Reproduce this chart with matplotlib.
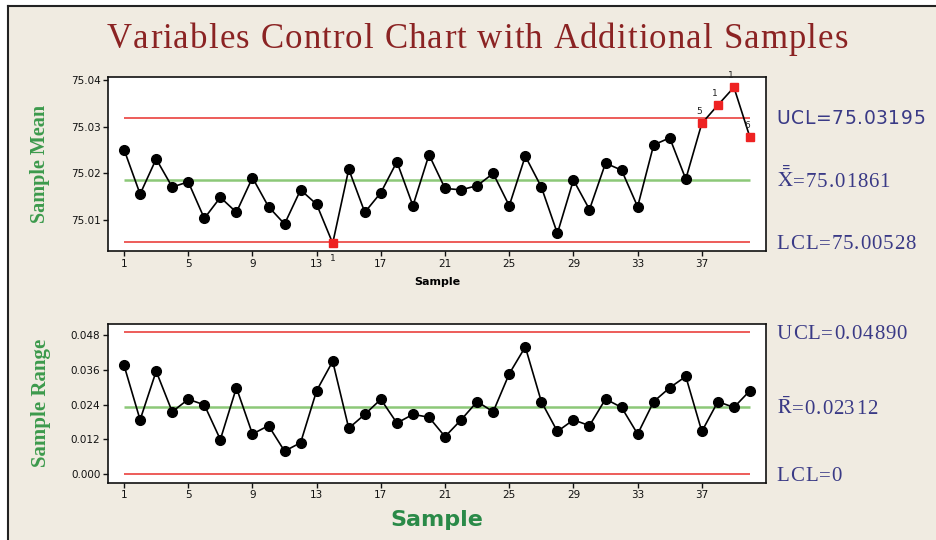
import matplotlib.pyplot as plt
from matplotlib.patches import Rectangle
from matplotlib.lines import Line2D
from matplotlib.transforms import offset_copy

plt.rcParams['mathtext.fontset'] = 'stix'

# Subgroup means and ranges, samples 1..40
sample = list(range(1, 41))
xbar = [75.0251, 75.0156, 75.0231, 75.0171, 75.0182, 75.0104, 75.0149, 75.0117,
        75.0191, 75.0129, 75.0092, 75.0165, 75.0134, 75.0051, 75.0209, 75.0117,
        75.0159, 75.0225, 75.0131, 75.0240, 75.0168, 75.0165, 75.0174, 75.0200,
        75.0131, 75.0237, 75.0171, 75.0072, 75.0186, 75.0123, 75.0222, 75.0207,
        75.0129, 75.0261, 75.0276, 75.0188, 75.0307, 75.0346, 75.0384, 75.0277]
rng = [0.0375, 0.0187, 0.0355, 0.0215, 0.0258, 0.0239, 0.0119, 0.0298,
       0.0138, 0.0167, 0.0079, 0.0108, 0.0288, 0.0389, 0.0158, 0.0206,
       0.0258, 0.0176, 0.0206, 0.0196, 0.0129, 0.0187, 0.0250, 0.0215,
       0.0346, 0.0439, 0.0250, 0.0147, 0.0187, 0.0167, 0.0259, 0.0230,
       0.0138, 0.0250, 0.0298, 0.0337, 0.0147, 0.0250, 0.0230, 0.0288]

# control limits
x_ucl, x_cl, x_lcl = 75.03195, 75.01861, 75.00528
r_ucl, r_cl, r_lcl = 0.04890, 0.02312, 0.0

# out-of-control points and the test number that flagged them
flag_idx = [13, 36, 37, 38, 39]
flag_tests = ['1', '5', '1', '1', '6']

xticks = [1, 5, 9, 13, 17, 21, 25, 29, 33, 37]
xbar_ticks = [75.01, 75.02, 75.03, 75.04]
rng_ticks = [0.000, 0.012, 0.024, 0.036, 0.048]

red = '#e8302c'
green = '#8cc878'
navy = '#3a3a86'
bg = '#f0ebe1'

fig = plt.figure(figsize=(9.36, 5.4), dpi=100)
fig.patch.set_facecolor('white')
renderer = fig.canvas.get_renderer()


def text_width(s, **kw):
    t = fig.text(0, 0, s, **kw)
    w = t.get_window_extent(renderer).width
    t.remove()
    return w


def advance(tok, **kw):
    # advance width of a token, measured between two bars so spaces count too
    return text_width('|' + tok + '|', **kw) - text_width('||', **kw)


def tracked_text(x, y, tokens, track, transform, ha='left', dy=0, **kw):
    # draw tokens one by one with extra spacing (pixels) between them
    adv = [advance(tok, **kw) for tok in tokens]
    total = sum(adv) + track * (len(tokens) - 1)
    off = -total / 2 if ha == 'center' else 0
    for tok, a in zip(tokens, adv):
        if tok.strip():
            tr = offset_copy(transform, fig=fig, x=off * 72 / fig.dpi, y=dy, units='points')
            fig.text(x, y, tok, transform=tr, ha='left', va='baseline', **kw)
        off += a + track


fig.patches.append(Rectangle((8 / 936, 0), 1, 1 - 6 / 540, transform=fig.transFigure,
                             facecolor=bg, edgecolor='none', zorder=-10))
fig.lines.append(Line2D([8 / 936, 8 / 936], [0, 1 - 6 / 540], transform=fig.transFigure,
                        color='#222222', lw=1.5))
fig.lines.append(Line2D([8 / 936, 1], [1 - 6 / 540, 1 - 6 / 540], transform=fig.transFigure,
                        color='#222222', lw=1.5))

tracked_text(0.51, 1 - 48 / 540, list('Variables Control Chart with Additional Samples'),
             1.1, fig.transFigure, ha='center',
             family='Liberation Serif', fontsize=25, color='#8b2323')

ax1 = fig.add_axes([0.1154, 0.5352, 0.7030, 0.3222])
ax2 = fig.add_axes([0.1154, 0.1061, 0.7030, 0.2939])

for ax in (ax1, ax2):
    ax.set_facecolor('white')
    for s in ax.spines.values():
        s.set_linewidth(1.2)
        s.set_color('#111111')
    ax.set_xlim(0, 41)
    ax.set_xticks(xticks)
    ax.tick_params(direction='out', length=3.5, width=1, labelsize=7.5,
                   colors='#111111', pad=2)

# Xbar chart
ax1.set_ylim(75.00344, 75.0406)
ax1.set_yticks(xbar_ticks)
ax1.set_yticklabels(['%.2f' % t for t in xbar_ticks])
ax1.hlines([x_ucl, x_lcl], 1, 40, color=red, lw=1.1)
ax1.hlines(x_cl, 1, 40, color=green, lw=1.8)
ax1.plot(sample, xbar, color='black', lw=1.2, zorder=3)
ok = [i for i in range(len(sample)) if i not in flag_idx]
ax1.plot([sample[i] for i in ok], [xbar[i] for i in ok], 'o', color='black',
         ms=7, zorder=4)
ax1.plot([sample[i] for i in flag_idx], [xbar[i] for i in flag_idx], 's',
         color='#ee2222', ms=5.5, zorder=5)
for i, t in zip(flag_idx, flag_tests):
    below = xbar[i] < x_cl
    ax1.annotate(t, (sample[i], xbar[i]), xytext=(-2 if not below else 0, -8 if below else 5),
                 textcoords='offset points', ha='center',
                 va='top' if below else 'bottom', fontsize=6.5, color='#222222')
ax1.set_xlabel('Sample', fontsize=8, fontweight='bold', labelpad=6)
ax1.set_ylabel('Sample Mean', family='Liberation Serif', fontsize=14.5,
               fontweight='bold', color='#3c9a4c', labelpad=15)

# R chart
ax2.set_ylim(-0.0030, 0.0518)
ax2.set_yticks(rng_ticks)
ax2.set_yticklabels(['%.3f' % t for t in rng_ticks])
ax2.hlines([r_ucl, r_lcl], 1, 40, color=red, lw=1.1)
ax2.hlines(r_cl, 1, 40, color=green, lw=1.8)
ax2.plot(sample, rng, 'o-', color='black', lw=1.2, ms=7, zorder=4)
ax2.set_xlabel('Sample', fontsize=16, fontweight='bold', color='#2a8a48', labelpad=7)
ax2.set_ylabel('Sample Range', family='Liberation Serif', fontsize=15,
               fontweight='bold', color='#3c9a4c', labelpad=14)

# limit labels at the right of each chart
tx = 1.016
serif = dict(family='Liberation Serif', fontsize=15, color=navy)
t1 = ax1.get_yaxis_transform()
t2 = ax2.get_yaxis_transform()
tracked_text(tx, x_ucl, list('UCL=%.5f' % x_ucl), 0.6, t1, dy=-5,
             fontsize=13.5, color=navy)
tracked_text(tx, x_cl, [r'$\bar{\bar{\mathrm{X}}}$'] + list('=%.5f' % x_cl), 0.9, t1,
             dy=-5, **serif)
tracked_text(tx, x_lcl, list('LCL=%.5f' % x_lcl), 0.9, t1, dy=-5, **serif)
tracked_text(tx, r_ucl, list('UCL=%.5f' % r_ucl), 0.9, t2, dy=-5, **serif)
tracked_text(tx, r_cl, [r'$\bar{\mathrm{R}}$'] + list('=%.5f' % r_cl), 0.9, t2,
             dy=-5, **serif)
tracked_text(tx, r_lcl, list('LCL=%g' % r_lcl), 0.9, t2, dy=-5, **serif)

fig.savefig('out.png', dpi=100)
